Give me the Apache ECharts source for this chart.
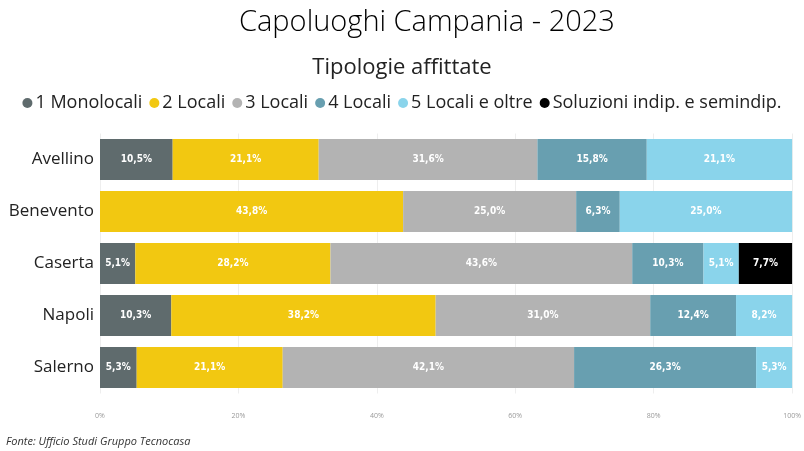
<!DOCTYPE html>
<html><head><meta charset="utf-8">
<script src="https://cdn.jsdelivr.net/npm/echarts@6/dist/echarts.min.js"></script>
<style>html,body{margin:0;padding:0;background:#fff}#c{width:804px;height:451px}</style>
</head><body><div id="c"></div>
<script>
const categories = ['Avellino','Benevento','Caserta','Napoli','Salerno'];
const seriesNames = ['1 Monolocali','2 Locali','3 Locali','4 Locali','5 Locali e oltre','Soluzioni indip. e semindip.'];
const monolocali = [10.5, null, 5.1, 10.3, 5.3];
const locali2 = [21.1, 43.8, 28.2, 38.2, 21.1];
const locali3 = [31.6, 25.0, 43.6, 31.0, 42.1];
const locali4 = [15.8, 6.3, 10.3, 12.4, 26.3];
const locali5 = [21.1, 25.0, 5.1, 8.2, 5.3];
const indip = [null, null, 7.7, null, null];
const tickLabels = ['0%','20%','40%','60%','80%','100%'];
const colors = ['#5f6b6d','#f2c811','#b3b3b3','#689fb0','#8ad4eb','#000000'];
const values = [monolocali, locali2, locali3, locali4, locali5, indip];

const chart = echarts.init(document.getElementById('c'));
const font = '"Open Sans", "Noto Sans", sans-serif';
chart.setOption({
  animation:false,
  title:[
    {text:'Capoluoghi Campania - 2023', left:234, top:3, textStyle:{fontFamily:font, fontWeight:300, fontSize:29, color:'#000'}},
    {text:'Tipologie affittate', left:'center', top:52, textStyle:{fontFamily:font, fontWeight:400, fontSize:22, color:'#222'}},
    {text:'Fonte: Ufficio Studi Gruppo Tecnocasa', left:1, top:431, textStyle:{fontFamily:font, fontStyle:'italic', fontWeight:400, fontSize:11, color:'#333'}}
  ],
  legend:{
    top:89, left:'center', icon:'circle', itemWidth:10, itemHeight:10, itemGap:7,
    textStyle:{fontFamily:font, fontSize:18, color:'#222', padding:[0,0,0,-2]},
    data:seriesNames
  },
  grid:{left:100, right:10, top:133.5, bottom:57.5, containLabel:false},
  xAxis:{
    type:'value', min:0, max:100, interval:20,
    axisLine:{show:false}, axisTick:{show:false},
    splitLine:{lineStyle:{color:'#eeeeee'}},
    axisLabel:{formatter:v=>tickLabels[v/20], fontSize:7, color:'#999', fontFamily:font, margin:19}
  },
  yAxis:{
    type:'category', data:categories, inverse:true,
    axisLine:{show:false}, axisTick:{show:false},
    axisLabel:{fontFamily:font, fontSize:17, color:'#222', margin:6}
  },
  series: seriesNames.map((n,i)=>({
    name:n, type:'bar', stack:'t', barCategoryGap:'21%',
    data: values[i],
    itemStyle:{color:colors[i]},
    label:{show:true, position:'inside', color:'#fff', fontSize:10, fontWeight:'bold', fontFamily:'"DejaVu Sans Condensed", "Roboto Condensed", sans-serif',
      formatter:p=>p.value==null?'':p.value.toFixed(1).replace('.',',')+'%'}
  }))
});
</script></body></html>
